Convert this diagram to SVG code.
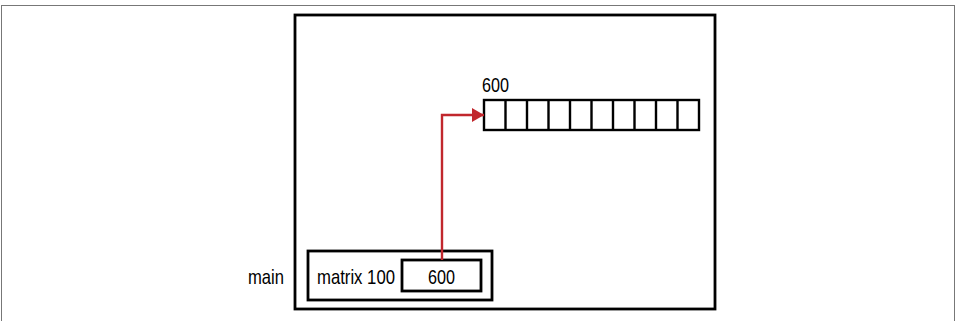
<svg xmlns="http://www.w3.org/2000/svg" width="956" height="321" viewBox="0 0 956 321">
<defs>
<style>
.box{fill:#fff;stroke:#000;stroke-width:2.8}
.cell{fill:none;stroke:#000;stroke-width:2.4}
.t{font-family:"Liberation Sans",Arial,sans-serif;font-size:21px;fill:#000}
.link{fill:none;stroke:#c1272d;stroke-width:2.4}
</style>
<marker id="ah" markerWidth="12" markerHeight="14" refX="12" refY="7" orient="auto" markerUnits="userSpaceOnUse">
<path d="M0,0 L12,7 L0,14 Z" fill="#c1272d"/>
</marker>
</defs>
<rect x="1.5" y="5.5" width="953" height="320" fill="#fff" stroke="#777" stroke-width="1"/>
<g id="frame">
<rect class="box" x="295" y="15" width="420" height="294"/>
</g>
<g id="array">
<text class="t" x="482" y="92" textLength="27" lengthAdjust="spacingAndGlyphs">600</text>
<rect class="cell" x="484" y="100" width="215" height="30"/>
<path class="cell" d="M505.5 100V130M527 100V130M548.5 100V130M570 100V130M591.5 100V130M613 100V130M634.5 100V130M656 100V130M677.5 100V130"/>
</g>
<g id="main">
<text class="t" x="248" y="284" textLength="36" lengthAdjust="spacingAndGlyphs">main</text>
<rect class="box" x="308" y="251" width="184" height="49"/>
<text class="t" x="317" y="284" textLength="78" lengthAdjust="spacingAndGlyphs">matrix 100</text>
<g id="cell600">
<rect class="box" x="402" y="260" width="79" height="31"/>
<text class="t" x="428" y="284" textLength="27" lengthAdjust="spacingAndGlyphs">600</text>
</g>
</g>
<g id="connectors">
<path class="link" d="M442 260V115H484" marker-end="url(#ah)"/>
</g>
</svg>
